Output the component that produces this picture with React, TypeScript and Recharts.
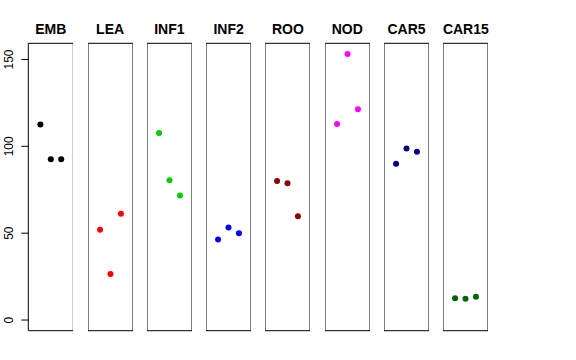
import { ScatterChart, Scatter, XAxis, YAxis, ReferenceArea } from 'recharts';

const tissues = ['EMB', 'LEA', 'INF1', 'INF2', 'ROO', 'NOD', 'CAR5', 'CAR15'];
const tissueColors = ['#000000', '#FF0000', '#00CD00', '#0000FF', '#8B0000', '#FF00FF', '#00008B', '#006400'];

// three replicates per tissue
const replicates = [1, 2, 3];
const embValues = [112.6, 92.5, 92.5];
const leaValues = [52.0, 26.5, 61.2];
const inf1Values = [107.6, 80.4, 71.7];
const inf2Values = [46.4, 53.3, 49.9];
const rooValues = [80.0, 78.8, 59.7];
const nodValues = [112.9, 153.2, 121.4];
const car5Values = [89.9, 98.8, 96.9];
const car15Values = [12.5, 12.3, 13.4];

const yTicks = [0, 50, 100, 150];

const seriesValues = [embValues, leaValues, inf1Values, inf2Values, rooValues, nodValues, car5Values, car15Values];

const X_DOMAIN: [number, number] = [-0.16, 4.16];
const Y_DOMAIN: [number, number] = [-6.13, 159.3];

const FONT = '"Liberation Sans", Arial, Helvetica, sans-serif';
const PANEL_W = 45;
const PANEL_STEP = 59.29;
const FIRST_LEFT = 28.3;
const PLOT_TOP = 43.3;
const PLOT_BOTTOM = 330.7;
const H = 360;

function RotatedTick({ y, payload }: { y?: number; payload?: { value: number } }) {
  const tx = 12.7;
  return (
    <text
      x={tx}
      y={y}
      transform={`rotate(-90, ${tx}, ${y})`}
      textAnchor="middle"
      fontSize={12}
      fontFamily={FONT}
      fill="#000"
    >
      {payload?.value}
    </text>
  );
}

function Panel({ index }: { index: number }) {
  const first = index === 0;
  const left = FIRST_LEFT + PANEL_STEP * index;
  const color = tissueColors[index];
  const data = replicates.map((r, k) => ({ x: r, y: seriesValues[index][k] }));
  const yW = first ? FIRST_LEFT : 0;

  return (
    <>
      <div
        style={{
          position: 'absolute',
          left: left - 10,
          width: PANEL_W + 20,
          top: 22.1,
          lineHeight: '14px',
          textAlign: 'center',
          fontFamily: FONT,
          fontWeight: 'bold',
          fontSize: 14,
          color: '#000',
        }}
      >
        {tissues[index]}
      </div>
      <div style={{ position: 'absolute', left: left - yW, top: 0 }}>
        <ScatterChart
          width={PANEL_W + yW}
          height={H}
          margin={{ top: PLOT_TOP, bottom: H - PLOT_BOTTOM, left: 0, right: 0 }}
        >
          <XAxis type="number" dataKey="x" domain={X_DOMAIN} hide allowDataOverflow />
          <YAxis
            type="number"
            dataKey="y"
            domain={Y_DOMAIN}
            allowDataOverflow
            hide={!first}
            width={yW}
            ticks={yTicks}
            tickSize={7}
            axisLine={false}
            tickLine={{ stroke: '#000' }}
            tick={<RotatedTick />}
            interval={0}
          />
          <ReferenceArea
            x1={X_DOMAIN[0]}
            x2={X_DOMAIN[1]}
            y1={Y_DOMAIN[0]}
            y2={Y_DOMAIN[1]}
            fill="none"
            stroke="#000"
            strokeWidth={1}
          />
          <Scatter
            data={data}
            isAnimationActive={false}
            shape={(p: any) => <circle cx={p.cx} cy={p.cy} r={3} fill={color} />}
          />
        </ScatterChart>
      </div>
    </>
  );
}

export default function App() {
  return (
    <div style={{ position: 'absolute', left: 0, top: 0, width: 576, height: 360, background: '#fff' }}>
      {tissues.map((t, i) => (
        <Panel key={t} index={i} />
      ))}
    </div>
  );
}
